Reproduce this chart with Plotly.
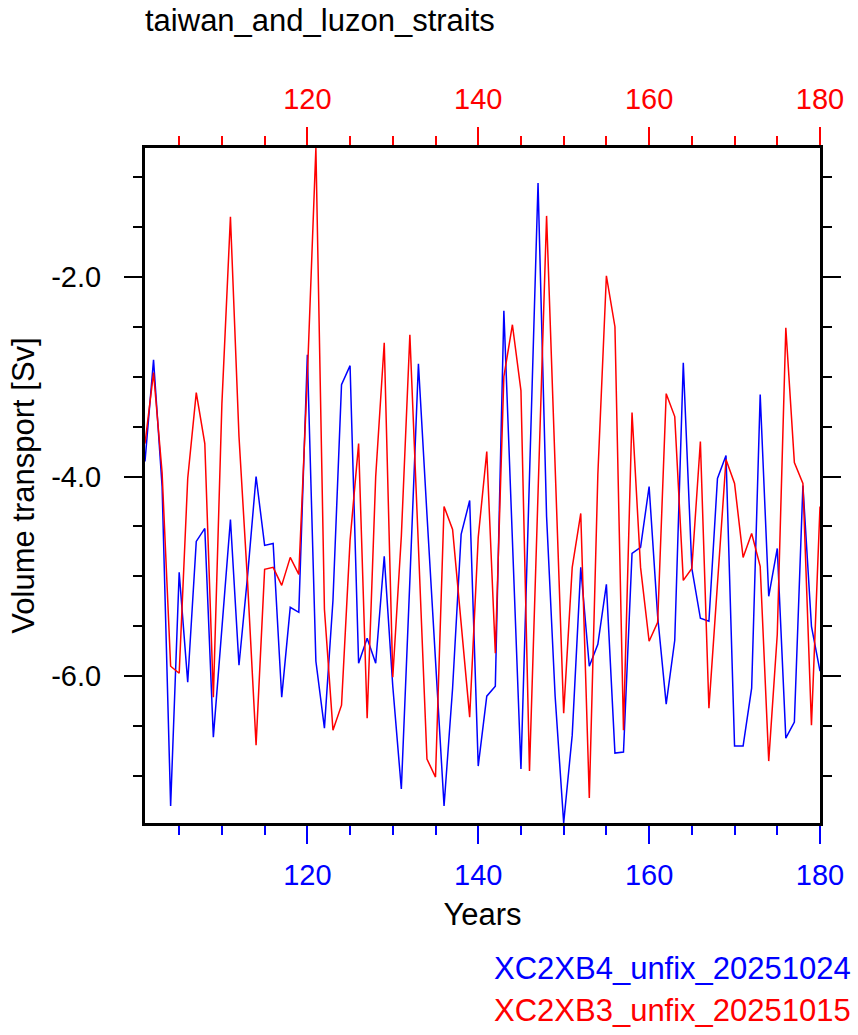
import plotly.graph_objects as go

years = list(range(101, 181))

blue_name = "XC2XB4_unfix_20251024"
red_name = "XC2XB3_unfix_20251015"

blue_vals = [
    -3.85, -2.83, -4.10, -7.30, -4.96, -6.06, -4.65, -4.52, -6.61, -5.50,
    -4.43, -5.89, -5.00, -4.00, -4.69, -4.67, -6.21, -5.31, -5.36, -2.78,
    -5.85, -6.52, -5.24, -3.08, -2.89, -5.87, -5.62, -5.87, -4.80, -6.10,
    -7.13, -5.04, -2.87, -4.38, -5.84, -7.30, -6.12, -4.58, -4.24, -6.90,
    -6.20, -6.10, -2.34, -4.60, -6.93, -4.00, -1.06, -4.40, -6.20, -7.47,
    -6.59, -4.91, -5.90, -5.68, -5.08, -6.77, -6.76, -4.77, -4.71, -4.10,
    -5.40, -6.28, -5.64, -2.86, -4.92, -5.42, -5.45, -4.02, -3.79, -6.70,
    -6.70, -6.12, -3.18, -5.20, -4.72, -6.62, -6.46, -4.09, -5.50, -5.95,
]

red_vals = [
    -3.67, -2.96, -3.96, -5.90, -5.97, -4.02, -3.16, -3.67, -6.21, -3.27,
    -1.40, -3.60, -5.05, -6.69, -4.93, -4.91, -5.09, -4.81, -4.98, -3.00,
    -0.71, -5.33, -6.54, -6.29, -4.64, -3.67, -6.42, -4.00, -2.66, -6.01,
    -4.60, -2.58, -4.70, -6.83, -7.01, -4.30, -4.53, -5.50, -6.41, -4.61,
    -3.75, -5.77, -3.00, -2.48, -3.14, -6.95, -4.20, -1.39, -3.90, -6.37,
    -4.91, -4.37, -7.22, -3.98, -1.99, -2.50, -6.54, -3.36, -4.91, -5.65,
    -5.46, -3.17, -3.40, -5.04, -4.92, -3.65, -6.32, -5.04, -3.83, -4.07,
    -4.81, -4.57, -4.90, -6.85, -5.58, -2.51, -3.86, -4.07, -6.49, -4.30,
]

x_tickvals = [120, 140, 160, 180]
x_ticktext = ["120", "140", "160", "180"]
y_tickvals = [-6.0, -4.0, -2.0]
y_ticktext = ["-6.0", "-4.0", "-2.0"]

FONT = "Liberation Sans, Arial, Helvetica, sans-serif"
BLUE = "#0000FF"
RED = "#FF0000"
TICK_SIZE = 29
TEXT_SIZE = 31

fig = go.Figure()
fig.add_trace(go.Scatter(x=years, y=blue_vals, mode="lines", name=blue_name,
                         line=dict(color=BLUE, width=1.5), xaxis="x", yaxis="y"))
fig.add_trace(go.Scatter(x=years, y=red_vals, mode="lines", name=red_name,
                         line=dict(color=RED, width=1.5), xaxis="x2", yaxis="y"))

xr = [min(years), max(years)]
yr = [min(min(blue_vals), min(red_vals)), max(max(blue_vals), max(red_vals))]

common_x = dict(range=xr, tickmode="array", tickvals=x_tickvals, ticktext=x_ticktext,
                ticks="outside", ticklen=18, tickwidth=2, showgrid=False, zeroline=False,
                showline=True, linecolor="black", linewidth=3, ticklabelstandoff=6)

fig.update_layout(
    width=858, height=1035,
    margin=dict(l=145, r=38, t=148, b=212, pad=0),
    paper_bgcolor="white", plot_bgcolor="white",
    showlegend=False,
    font=dict(family=FONT, size=TICK_SIZE, color="black"),
    title=dict(text="taiwan_and_luzon_straits", x=145 / 858, xanchor="left",
               y=1 - 20 / 1035, yanchor="middle", xref="container", yref="container",
               font=dict(family=FONT, size=TEXT_SIZE, color="black")),
    xaxis=dict(**common_x, side="bottom", tickcolor=BLUE,
               tickfont=dict(color=BLUE, size=TICK_SIZE, family=FONT),
               minor=dict(dtick=5, tick0=0, ticks="outside", ticklen=9,
                          tickwidth=1.5, tickcolor=BLUE),
               title=dict(text="Years", standoff=14,
                          font=dict(size=TEXT_SIZE, family=FONT, color="black"))),
    xaxis2=dict(**common_x, side="top", overlaying="x", anchor="y", tickcolor=RED,
                tickfont=dict(color=RED, size=TICK_SIZE, family=FONT),
                minor=dict(dtick=5, tick0=0, ticks="outside", ticklen=9,
                           tickwidth=1.5, tickcolor=RED)),
    yaxis=dict(range=yr, tickmode="array", tickvals=y_tickvals, ticktext=y_ticktext,
               ticks="outside", ticklen=18, tickwidth=2, tickcolor="black",
               minor=dict(dtick=0.5, tick0=0, ticks="outside", ticklen=9,
                          tickwidth=1.5, tickcolor="black"),
               showgrid=False, zeroline=False, showline=True, linecolor="black",
               linewidth=3, mirror="ticks", ticklabelstandoff=17,
               tickfont=dict(size=TICK_SIZE, family=FONT, color="black"),
               title=dict(text="Volume transport [Sv]", standoff=8,
                          font=dict(size=TEXT_SIZE, family=FONT, color="black"))),
)

fig.add_annotation(text=blue_name, xref="paper", yref="paper",
                   x=(853 - 145) / 675, y=-(968 - 823) / 675, xanchor="right",
                   yanchor="middle", showarrow=False,
                   font=dict(color=BLUE, size=TEXT_SIZE, family=FONT))
fig.add_annotation(text=red_name, xref="paper", yref="paper",
                   x=(853 - 145) / 675, y=-(1010 - 823) / 675, xanchor="right",
                   yanchor="middle", showarrow=False,
                   font=dict(color=RED, size=TEXT_SIZE, family=FONT))

fig.write_html("out.html")
